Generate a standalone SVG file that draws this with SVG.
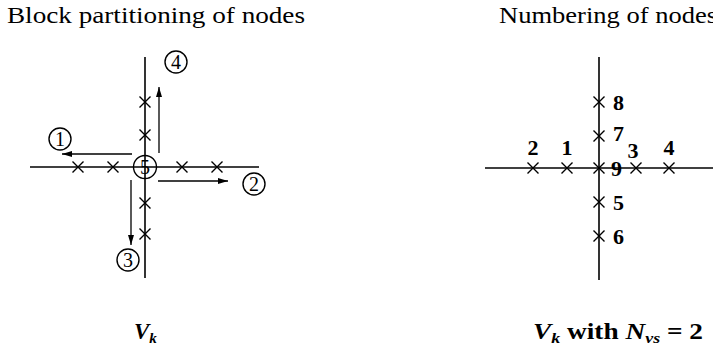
<svg xmlns="http://www.w3.org/2000/svg" width="713" height="357" viewBox="0 0 713 357">
<style>
  .ax { stroke:#000; stroke-width:1.6; fill:none; }
  .x { stroke:#000; stroke-width:1.4; fill:none; }
  .arr { stroke:#000; stroke-width:1.3; fill:none; marker-end:url(#ah); }
  .circ { stroke:#000; stroke-width:1.4; fill:none; }
  .t { font-family:"Liberation Serif","DejaVu Serif",serif; fill:#000; stroke:none; }
  .title { font-size:24px; }
  .cn { font-size:20px; text-anchor:middle; }
  .num { font-size:22px; font-weight:bold; }
  .math { font-size:23px; font-style:italic; font-weight:bold; }
  .sub { font-size:15px; font-style:italic; font-weight:bold; }
  .rm { font-size:23px; font-weight:bold; }
</style>
<defs>
  <marker id="ah" viewBox="0 0 10 6" refX="10" refY="3" markerWidth="10" markerHeight="6" markerUnits="userSpaceOnUse" orient="auto">
    <path d="M0,0 L10,3 L0,6 Z" fill="#000"/>
  </marker>
  <path id="cross" d="M-5.5,-5.5 L5.5,5.5 M-5.5,5.5 L5.5,-5.5"/>
</defs>
<rect width="713" height="357" fill="#fff"/>

<text class="t title" x="7" y="23" textLength="298" lengthAdjust="spacingAndGlyphs">Block partitioning of nodes</text>
<text class="t title" x="499" y="23" textLength="218" lengthAdjust="spacingAndGlyphs">Numbering of nodes</text>

<g id="connectors">
  <line class="ax" x1="30" y1="167" x2="259" y2="167"/>
  <line class="ax" x1="145" y1="57" x2="145" y2="278"/>
  <line class="arr" x1="159" y1="153" x2="159" y2="87"/>
  <line class="arr" x1="132" y1="154" x2="62" y2="154"/>
  <line class="arr" x1="158" y1="181" x2="228" y2="181"/>
  <line class="arr" x1="131" y1="180" x2="131" y2="245"/>
  <line class="ax" x1="485" y1="168" x2="713" y2="168"/>
  <line class="ax" x1="599" y1="57" x2="599" y2="280"/>
</g>

<g id="left-crosses" class="x">
  <g id="lh1"><use href="#cross" x="78" y="167"/></g>
  <g id="lh2"><use href="#cross" x="113" y="167"/></g>
  <g id="lh3"><use href="#cross" x="182" y="167"/></g>
  <g id="lh4"><use href="#cross" x="217" y="167"/></g>
  <g id="lv1"><use href="#cross" x="145" y="102"/></g>
  <g id="lv2"><use href="#cross" x="145" y="135"/></g>
  <g id="lv3"><use href="#cross" x="145" y="203"/></g>
  <g id="lv4"><use href="#cross" x="145" y="234"/></g>
</g>

<g id="block1"><circle class="circ" cx="60" cy="139" r="11"/><text class="t cn" x="60" y="146">1</text></g>
<g id="block2"><circle class="circ" cx="254" cy="184" r="11"/><text class="t cn" x="254" y="191">2</text></g>
<g id="block3"><circle class="circ" cx="128" cy="260" r="11"/><text class="t cn" x="128" y="267">3</text></g>
<g id="block4"><circle class="circ" cx="176" cy="62" r="11"/><text class="t cn" x="176" y="69">4</text></g>
<g id="block5"><circle class="circ" cx="145" cy="167" r="11.5"/><text class="t cn" x="145" y="174">5</text></g>

<g id="right-nodes">
  <g id="n2"><use class="x" href="#cross" x="533" y="168"/><text class="t num" x="533" y="155" text-anchor="middle">2</text></g>
  <g id="n1"><use class="x" href="#cross" x="567" y="168"/><text class="t num" x="567" y="155" text-anchor="middle">1</text></g>
  <g id="n3"><use class="x" href="#cross" x="636" y="168"/><text class="t num" x="633" y="158" text-anchor="middle">3</text></g>
  <g id="n4"><use class="x" href="#cross" x="669" y="168"/><text class="t num" x="669" y="155" text-anchor="middle">4</text></g>
  <g id="n8"><use class="x" href="#cross" x="599" y="102"/><text class="t num" x="613" y="110">8</text></g>
  <g id="n7"><use class="x" href="#cross" x="599" y="136"/><text class="t num" x="613" y="141">7</text></g>
  <g id="n9"><use class="x" href="#cross" x="599" y="168"/><text class="t num" x="611" y="176">9</text></g>
  <g id="n5"><use class="x" href="#cross" x="599" y="202"/><text class="t num" x="613" y="210">5</text></g>
  <g id="n6"><use class="x" href="#cross" x="599" y="236"/><text class="t num" x="613" y="244">6</text></g>
</g>

<text class="t math" x="134" y="339">V<tspan class="sub" dy="4">k</tspan></text>
<text class="t math" x="533" y="339" textLength="170" lengthAdjust="spacingAndGlyphs">V<tspan class="sub" dy="4">k</tspan><tspan class="rm" dy="-4" font-style="normal"> with </tspan>N<tspan class="sub" dy="4">vs</tspan><tspan class="rm" dy="-4" font-style="normal"> = 2</tspan></text>
</svg>
